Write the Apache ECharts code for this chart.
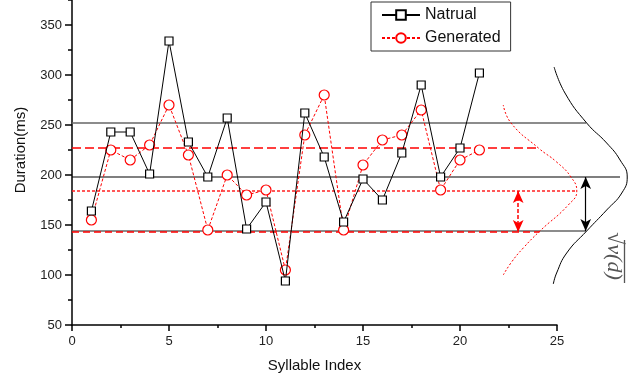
<!DOCTYPE html>
<html><head><meta charset="utf-8">
<script src="https://cdn.jsdelivr.net/npm/echarts@6/dist/echarts.min.js"></script>
<style>html,body{margin:0;padding:0;background:#fff}#c{width:643px;height:378px}</style>
</head><body><div id="c"></div>
<script>
// ---- data ----
const syllableIndex = [1,2,3,4,5,6,7,8,9,10,11,12,13,14,15,16,17,18,19,20,21];
const naturalDur   = [164,243,243,201,334,233,198,257,146,173,94,262,218,153,196,175,222,290,198,227,302];
const generatedDur = [155,225,215,230,270,220,145,200,180,185,105,240,280,145,210,235,240,265,185,215,225];

const naturalMean = 198, naturalUpper = 252, naturalLower = 144;
const generatedMean = 184, generatedUpper = 227, generatedLower = 143;

// extents (in syllable-index units) of the reference lines
const naturalUpperEnd = 26.5, naturalMeanEnd = 28.25, naturalLowerEnd = 26.5;
const generatedUpperEnd = 24.05, generatedMeanEnd = 26.0, generatedLowerEnd = 24.1;
const naturalArrowX = 26.48, generatedArrowX = 23.0;

// distribution curves (x in index units, y in ms)
const naturalCurve = [[24.81,91],[24.98,102],[25.50,122],[26.53,144],[27.56,165],[28.34,182],[28.62,198],[28.25,215],[27.56,232],[26.53,252],[25.41,282],[24.85,308]];
const generatedCurve = [[22.23,100],[22.66,113],[23.26,127],[24.12,144],[25.58,170],[26.02,184],[25.72,198],[24.98,213],[24.04,227],[22.63,252],[22.23,270]];

const xTicks = [0,5,10,15,20,25];
const yTicks = [50,100,150,200,250,300,350];

const chart = echarts.init(document.getElementById('c'), null, {renderer:'canvas'});
const FONT = 'Liberation Sans, Arial, sans-serif';
const U = 19.4; // px per index unit

function hline(name, y, end, color, type, width, z) {
  return {name, type:'line', xAxisIndex:1, yAxisIndex:1, data:[[0,y],[end,y]],
    symbol:'none', silent:true, z:z||1, lineStyle:{color, type, width}, animation:false};
}

const option = {
  animation:false,
  backgroundColor:'#fff',
  legend:{
    data:['Natrual','Generated'], orient:'vertical', left:371, top:2,
    padding:[5,10,5,10], itemWidth:38, itemHeight:12, itemGap:7,
    borderColor:'#333', borderWidth:1, backgroundColor:'#fff',
    textStyle:{fontFamily:FONT, fontSize:16, color:'#111'}
  },
  grid:[
    {left:72, top:-25, width:25*U, height:350, outerBoundsMode:'none', containLabel:false},
    {left:72, top:-25, width:29*U, height:350, outerBoundsMode:'none', containLabel:false}
  ],
  xAxis:[
    {type:'value', gridIndex:0, min:0, max:25, interval:5,
     name:'Syllable Index', nameLocation:'middle', nameGap:33,
     nameTextStyle:{fontFamily:FONT, fontSize:15, color:'#111'},
     axisLine:{show:true, onZero:false, lineStyle:{color:'#000', width:1.5}},
     axisTick:{show:true, length:6, lineStyle:{color:'#000', width:1.5}},
     minorTick:{show:true, splitNumber:2, length:3, lineStyle:{color:'#000', width:1.5}},
     axisLabel:{fontFamily:FONT, fontSize:13, color:'#222', margin:10},
     splitLine:{show:false}},
    {type:'value', gridIndex:1, min:0, max:29, show:false}
  ],
  yAxis:[
    {type:'value', gridIndex:0, min:50, max:400, interval:50,
     name:'Duration(ms)', nameLocation:'middle', nameGap:44,
     nameTextStyle:{fontFamily:FONT, fontSize:15, color:'#111'},
     axisLine:{show:true, onZero:false, lineStyle:{color:'#000', width:1.5}},
     axisTick:{show:true, length:7, lineStyle:{color:'#000', width:1.5}},
     minorTick:{show:true, splitNumber:2, length:4, lineStyle:{color:'#000', width:1.5}},
     axisLabel:{fontFamily:FONT, fontSize:13, color:'#222', margin:10,
       formatter:v => yTicks.indexOf(v) >= 0 ? String(v) : ''},
     splitLine:{show:false}},
    {type:'value', gridIndex:1, min:50, max:400, show:false}
  ],
  series:[
    hline('nu', naturalUpper, naturalUpperEnd, '#666', 'solid', 1.5),
    hline('nl', naturalLower, naturalLowerEnd, '#666', 'solid', 1.5),
    hline('nm', naturalMean, naturalMeanEnd, '#000', 'solid', 1.2),
    hline('gu', generatedUpper, generatedUpperEnd, '#ff0000', [9,4], 1.5, 2),
    hline('gm', generatedMean, generatedMeanEnd, '#ff2020', [3,2], 1.5, 2),
    hline('gl', generatedLower, generatedLowerEnd, '#ff0000', [7,4], 1.5, 2),
    {name:'ncurve', type:'line', xAxisIndex:1, yAxisIndex:1, data:naturalCurve, smooth:true,
     symbol:'none', silent:true, lineStyle:{color:'#000', width:1}, z:2,
     markLine:{silent:true, symbol:['arrow','arrow'], symbolSize:[8,12], label:{show:false},
       lineStyle:{color:'#000', type:'solid', width:1.2},
       data:[[{coord:[naturalArrowX, naturalMean]},{coord:[naturalArrowX, naturalLower]}]]}},
    {name:'gcurve', type:'line', xAxisIndex:1, yAxisIndex:1, data:generatedCurve, smooth:true,
     symbol:'none', silent:true, lineStyle:{color:'#ff0000', width:1, type:[2,2]}, z:2,
     markLine:{silent:true, symbol:['arrow','arrow'], symbolSize:[8,12], label:{show:false},
       lineStyle:{color:'#ff0000', type:[4,2], width:1.5},
       data:[[{coord:[generatedArrowX, generatedMean]},{coord:[generatedArrowX, generatedLower]}]]}},
    {name:'Natrual', type:'line', xAxisIndex:0, yAxisIndex:0, z:4,
     data:syllableIndex.map((x,i)=>[x, naturalDur[i]]),
     symbol:'rect', symbolSize:8, showAllSymbol:true,
     lineStyle:{color:'#000', width:1},
     itemStyle:{color:'#fff', borderColor:'#000', borderWidth:1.2}},
    {name:'Generated', type:'line', xAxisIndex:0, yAxisIndex:0, z:3,
     data:syllableIndex.map((x,i)=>[x, generatedDur[i]]),
     symbol:'circle', symbolSize:10, showAllSymbol:true,
     lineStyle:{color:'#ff0000', width:1, type:[3,2]},
     itemStyle:{color:'#fff', borderColor:'#ff0000', borderWidth:1.2}}
  ],
  graphic:[
    {type:'text', x:614, y:256, rotation:-Math.PI/2,
     style:{text:'\u221Av(d)', fontFamily:'Liberation Serif, DejaVu Serif, serif',
       fontStyle:'italic', fontSize:22, fill:'#555', align:'center', verticalAlign:'middle'}},
    {type:'line', shape:{x1:624.5, y1:240, x2:624.5, y2:283}, style:{stroke:'#555', lineWidth:1.3}}
  ]
};
chart.setOption(option);
</script>
</body></html>
